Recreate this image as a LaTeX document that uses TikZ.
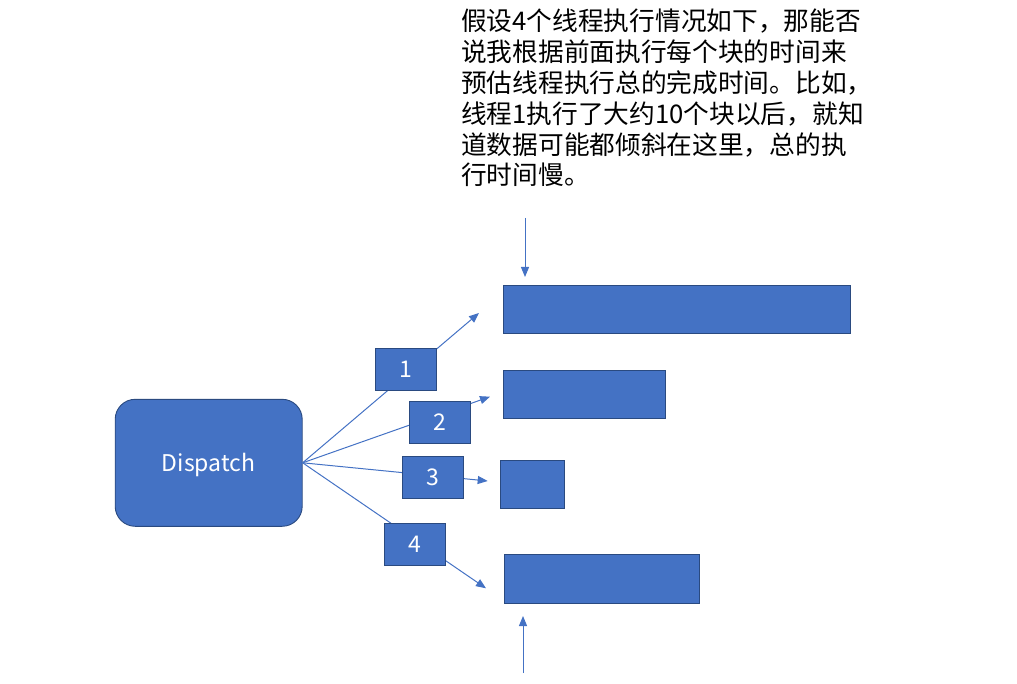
\documentclass[tikz,border=0pt]{standalone}
\usepackage{fontspec}
\newfontfamily\cjk{Noto Sans CJK SC}
\usetikzlibrary{arrows.meta}
\definecolor{ofblue}{HTML}{4472C4}
\definecolor{ofedge}{HTML}{2A4A80}
\tikzset{
  blk/.style={draw=ofedge, fill=ofblue, line width=0.9pt, inner sep=0pt},
  lbl/.style={blk, minimum width=61pt, minimum height=42pt, text=white, font=\cjk\fontsize{23}{26}\selectfont, text depth=0pt},
  conn/.style={draw=ofblue, line width=1pt, -{Triangle[length=10pt,width=8pt]}},
}
\begin{document}
\begin{tikzpicture}[x=1pt,y=-1pt]
\useasboundingbox (0,0) rectangle (1017,684);
% text
\node[anchor=north west, inner sep=0pt, align=left, font=\cjk\fontsize{25.7}{30.8}\selectfont] (txt) at (461,9)
  {假设4个线程执行情况如下，那能否\\说我根据前面执行每个块的时间来\\预估线程执行总的完成时间。比如，\\线程1执行了大约10个块以后，就知\\道数据可能都倾斜在这里，总的执\\行时间慢。};
% dispatch
\node[blk, rounded corners=20pt, minimum width=187pt, minimum height=127pt, text=white, font=\cjk\fontsize{23}{26}\selectfont, text depth=0pt] (disp) at (208.7,462.8) {Dispatch};
% bars
\node[blk, minimum width=347pt, minimum height=48pt] (b1) at (676.5,309) {};
\node[blk, minimum width=162pt, minimum height=48pt] (b2) at (584,394) {};
\node[blk, minimum width=64pt, minimum height=48pt] (b3) at (532,484) {};
\node[blk, minimum width=195pt, minimum height=49pt] (b4) at (601.5,578.5) {};
% free ends
\coordinate (t1) at (479,313);
\coordinate (t2) at (490,396.7);
\coordinate (t3) at (487.7,481);
\coordinate (t4) at (486,588.3);
\coordinate (s1) at (525,218);
\coordinate (e1) at (525,277);
\coordinate (s2) at (523,673);
\coordinate (e2) at (523,616);
\draw[conn] (disp.east) -- (t1);
\draw[conn] (disp.east) -- (t2);
\draw[conn] (disp.east) -- (t3);
\draw[conn] (disp.east) -- (t4);
\draw[conn] (s1) -- (e1);
\draw[conn] (s2) -- (e2);
% labels
\node[lbl] (l1) at (406,369.3) {1};
\node[lbl] (l2) at (439.8,422.3) {2};
\node[lbl] (l3) at (433,477.3) {3};
\node[lbl] (l4) at (415,544.5) {4};
\end{tikzpicture}
\end{document}
